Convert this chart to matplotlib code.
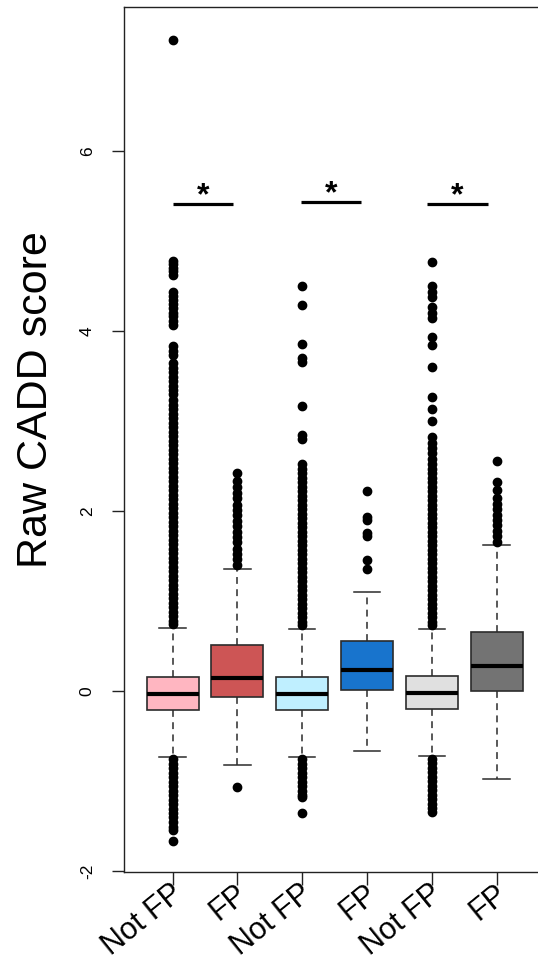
import matplotlib
matplotlib.use("Agg")
import matplotlib.pyplot as plt

plt.rcParams['font.family'] = ['Liberation Sans', 'DejaVu Sans']

# ---- data ----
labels = ["Not FP", "FP", "Not FP", "FP", "Not FP", "FP"]
colors = ["#FFB6C1", "#CD5555", "#BFEFFF", "#1874CD", "#E0E0E0", "#737373"]
q1 = [-0.207, -0.062, -0.207, 0.016, -0.196, 0.000]
med = [-0.037, 0.149, -0.033, 0.233, -0.022, 0.274]
q3 = [0.156, 0.511, 0.152, 0.552, 0.163, 0.652]
whislo = [-0.737, -0.82, -0.733, -0.67, -0.722, -0.978]
whishi = [0.70, 1.35, 0.69, 1.10, 0.69, 1.62]

dense_hi_a = [3.23, 3.18, 3.13, 3.08, 3.03, 2.98, 2.93, 2.88, 2.83, 2.78, 2.73, 2.68,
              2.63, 2.58, 2.53, 2.48, 2.43, 2.38, 2.33, 2.28, 2.23, 2.18, 2.13, 2.08,
              2.03, 1.98, 1.93, 1.88, 1.83, 1.78, 1.73, 1.68, 1.63, 1.58, 1.53, 1.48,
              1.43, 1.38, 1.33, 1.28, 1.23, 1.18, 1.13, 1.08, 1.03, 0.98, 0.93, 0.88,
              0.83, 0.78, 0.74]
dense_hi_b = [2.52, 2.47, 2.42, 2.37, 2.32, 2.27, 2.22, 2.17, 2.12, 2.07, 2.02, 1.97,
              1.92, 1.87, 1.82, 1.77, 1.72, 1.67, 1.62, 1.57, 1.52, 1.47, 1.42, 1.37,
              1.32, 1.27, 1.22, 1.17, 1.12, 1.07, 1.02, 0.97, 0.92, 0.87, 0.82, 0.77,
              0.73]

fliers = [
    [7.23, 4.78, 4.74, 4.70, 4.66, 4.62, 4.43, 4.39, 4.34, 4.30, 4.25, 4.20, 4.16,
     4.11, 4.06, 3.83, 3.78, 3.73, 3.64, 3.59, 3.54, 3.49, 3.44, 3.39, 3.34, 3.30]
    + dense_hi_a
    + [-0.76, -0.81, -0.86, -0.91, -0.96, -1.01, -1.06, -1.11, -1.16, -1.21, -1.26,
       -1.31, -1.36, -1.40, -1.46, -1.51, -1.54, -1.67],
    [2.42, 2.33, 2.27, 2.20, 2.14, 2.07, 2.01, 1.95, 1.89, 1.83, 1.77, 1.71, 1.65,
     1.58, 1.52, 1.47, 1.40, -1.07],
    [4.50, 4.29, 3.85, 3.70, 3.65, 3.16, 2.84, 2.80]
    + dense_hi_b
    + [-0.76, -0.81, -0.86, -0.91, -0.96, -1.01, -1.06, -1.11, -1.15, -1.18, -1.36],
    [2.22, 1.93, 1.90, 1.75, 1.72, 1.45, 1.35],
    [4.77, 4.50, 4.43, 4.38, 4.27, 4.20, 4.14, 3.93, 3.84, 3.60, 3.27, 3.13, 3.00,
     2.82, 2.76, 2.70, 2.64, 2.58]
    + dense_hi_b
    + [-0.75, -0.80, -0.85, -0.90, -0.95, -1.00, -1.05, -1.10, -1.15, -1.20, -1.25,
       -1.30, -1.34],
    [2.56, 2.32, 2.23, 2.14, 2.08, 2.02, 1.96, 1.90, 1.84, 1.78, 1.72, 1.66],
]

sig_x0 = [1.0, 2.98, 4.93]
sig_x1 = [1.93, 3.90, 5.86]
sig_y = [5.41, 5.43, 5.41]
sig_text = ["*", "*", "*"]

yticks = [-2, 0, 2, 4, 6]
ylabel = "Raw CADD score"

# ---- figure ----
W, H = 538, 964
fig = plt.figure(figsize=(W / 100, H / 100), dpi=100)
px = 64.8  # pixels per x-unit
xl0, xl1 = 0.25, 6.75
left = 124 / W
width = (xl1 - xl0) * px / W
bottom = 1 - 872 / H
top = 1 - 7 / H
ax = fig.add_axes([left, bottom, width, top - bottom])

positions = list(range(1, len(labels) + 1))
stats = []
for i in range(len(labels)):
    stats.append(dict(med=med[i], q1=q1[i], q3=q3[i], whislo=whislo[i],
                      whishi=whishi[i], fliers=fliers[i]))

edge = "#2b2b2b"
res = ax.bxp(stats, positions=positions, widths=0.8, patch_artist=True,
             showfliers=True,
             boxprops=dict(edgecolor=edge, linewidth=1.2),
             medianprops=dict(color="black", linewidth=3.0, solid_capstyle="butt"),
             whiskerprops=dict(color=edge, linewidth=1.1, linestyle=(0, (4.5, 3.5))),
             capprops=dict(color=edge, linewidth=1.1),
             capwidths=0.41,
             flierprops=dict(marker="o", markersize=6, markerfacecolor="black",
                             markeredgecolor="black", linestyle="none"))
for patch, c in zip(res["boxes"], colors):
    patch.set_facecolor(c)

for x0, x1, y, t in zip(sig_x0, sig_x1, sig_y, sig_text):
    ax.plot([x0, x1], [y, y], color="black", linewidth=2.3, solid_capstyle="butt")
    ax.text((x0 + x1) / 2, y - 0.08, t, ha="center", va="bottom",
            fontsize=23, fontweight="bold")

ax.set_xlim(xl0, xl1)
ax.set_ylim(-2.01, (690.7 - 7) / 90)
ax.set_yticks(yticks)
ax.set_yticklabels([str(v) for v in yticks], rotation=90, va="center", fontsize=12.5)
ax.set_xticks(positions)
ax.set_xticklabels([])
ax.tick_params(axis="both", direction="out", length=9, width=1.0, color="#222222")
ax.tick_params(axis="y", pad=12)
for s in ax.spines.values():
    s.set_linewidth(1.0)
    s.set_color("#222222")

for p, lab in zip(positions, labels):
    ax.annotate(lab, xy=(p, 0), xycoords=("data", "axes fraction"),
                xytext=(-2, -5), textcoords="offset points",
                ha="right", va="top", rotation=39, rotation_mode="anchor",
                fontsize=22, annotation_clip=False)

fig.text(36 / W, 1 - 400 / H, ylabel, rotation=90, ha="center", va="center",
         fontsize=31)

fig.savefig("out.png", dpi=100)
